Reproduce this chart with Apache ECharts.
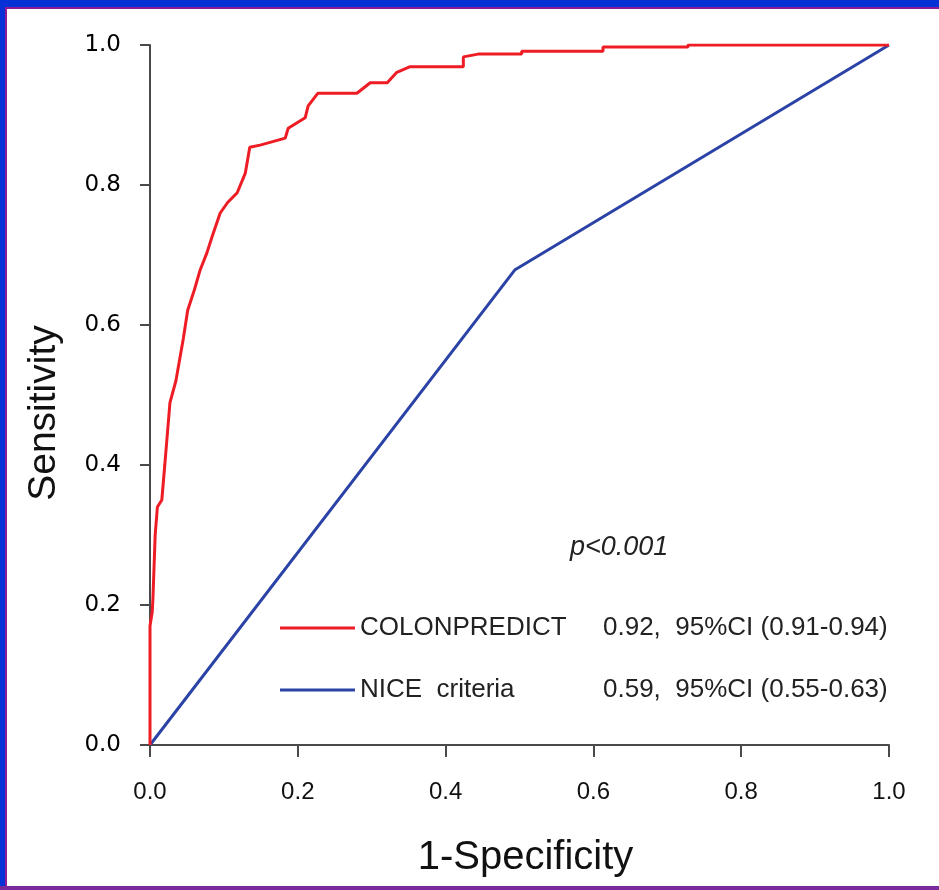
<!DOCTYPE html>
<html>
<head>
<meta charset="utf-8">
<script src="https://cdn.jsdelivr.net/npm/echarts@6/dist/echarts.min.js"></script>
<style>
html,body{margin:0;padding:0;background:#fff;}
#chart{width:939px;height:890px;}
</style>
</head>
<body>
<div id="chart"></div>
<script>
// ROC curve: COLONPREDICT (1-Specificity, Sensitivity)
const colonX = [0, 0, 0.003, 0.004, 0.007, 0.010, 0.016, 0.020, 0.027, 0.035, 0.045, 0.051, 0.060, 0.068, 0.077, 0.084, 0.095, 0.105, 0.118, 0.129, 0.135, 0.149, 0.183, 0.187, 0.210, 0.214, 0.227, 0.280, 0.298, 0.321, 0.334, 0.352, 0.424, 0.424, 0.444, 0.503, 0.503, 0.613, 0.613, 0.728, 0.728, 1.0];
const colonY = [0, 0.17, 0.19, 0.21, 0.30, 0.34, 0.35, 0.40, 0.489, 0.52, 0.58, 0.621, 0.65, 0.679, 0.703, 0.726, 0.760, 0.775, 0.789, 0.817, 0.854, 0.857, 0.867, 0.881, 0.896, 0.913, 0.931, 0.931, 0.946, 0.946, 0.961, 0.969, 0.969, 0.983, 0.987, 0.987, 0.991, 0.991, 0.997, 0.997, 1.0, 1.0];
// NICE criteria
const niceX = [0, 0.494, 1.0];
const niceY = [0, 0.679, 1.0];

const seriesNames = ['COLONPREDICT', 'NICE  criteria'];
const aucTexts = ['0.92,  95%CI (0.91-0.94)', '0.59,  95%CI (0.55-0.63)'];
const pText = 'p<0.001';
const xAxisName = '1-Specificity';
const yAxisName = 'Sensitivity';

const pairs = (xs, ys) => xs.map((x, i) => [x, ys[i]]);

const chart = echarts.init(document.getElementById('chart'), null, {renderer: 'canvas'});
const axisLineStyle = {color: '#4a4a4a', width: 2};
chart.setOption({
  backgroundColor: '#ffffff',
  animation: false,
  grid: {left: 150, right: 50, top: 45, bottom: 145, containLabel: false, outerBoundsMode: 'none'},
  xAxis: {
    type: 'value', min: 0, max: 1, interval: 0.2,
    name: xAxisName, nameLocation: 'middle', nameGap: 93,
    nameTextStyle: {fontFamily: 'Liberation Sans', fontSize: 40, color: '#111', padding: [0, 0, 0, 12]},
    axisLine: {show: true, lineStyle: axisLineStyle},
    axisTick: {show: true, length: 12, lineStyle: axisLineStyle},
    axisLabel: {margin: 35, fontFamily: 'Liberation Sans', fontSize: 24, color: '#111', formatter: v => v.toFixed(1)},
    splitLine: {show: false}
  },
  yAxis: {
    type: 'value', min: 0, max: 1, interval: 0.2,
    name: yAxisName, nameLocation: 'middle', nameGap: 86,
    nameTextStyle: {fontFamily: 'Liberation Sans', fontSize: 39, color: '#111', padding: [0, 36, 0, 0]},
    axisLine: {show: true, lineStyle: axisLineStyle},
    axisTick: {show: true, length: 10, lineStyle: axisLineStyle},
    axisLabel: {margin: 29, fontFamily: 'DejaVu Sans', fontSize: 23, color: '#000', formatter: v => v.toFixed(1)},
    splitLine: {show: false}
  },
  legend: {
    orient: 'vertical', left: 275, top: 608,
    icon: 'rect', itemWidth: 75, itemHeight: 3, itemGap: 32,
    selectedMode: false,
    data: seriesNames,
    formatter: name => '{a|' + name + '}{b|' + aucTexts[seriesNames.indexOf(name)] + '}',
    textStyle: {
      fontFamily: 'Liberation Sans', fontSize: 26, color: '#222', lineHeight: 30,
      rich: {
        a: {width: 243, fontFamily: 'Liberation Sans', fontSize: 26, color: '#222'},
        b: {fontFamily: 'Liberation Sans', fontSize: 26, color: '#222'}
      }
    }
  },
  graphic: [
    {type: 'rect', shape: {x: 0, y: 0, width: 939, height: 7}, style: {fill: '#0531d6'}, silent: true},
    {type: 'rect', shape: {x: 0, y: 7, width: 939, height: 2}, style: {fill: '#8e1b95'}, silent: true},
    {type: 'rect', shape: {x: 0, y: 0, width: 5, height: 890}, style: {fill: '#0531d6'}, silent: true},
    {type: 'rect', shape: {x: 5, y: 7, width: 2, height: 883}, style: {fill: '#8e1b95'}, silent: true},
    {type: 'rect', shape: {x: 0, y: 886, width: 939, height: 4}, style: {fill: '#7a2a9a'}, silent: true},
    {type: 'text', left: 570, top: 534, style: {text: pText, fontFamily: 'Liberation Sans', fontStyle: 'italic', fontSize: 27, fill: '#222'}, silent: true}
  ],
  series: [
    {name: seriesNames[0], type: 'line', data: pairs(colonX, colonY), showSymbol: false, symbol: 'none',
     lineStyle: {color: '#ee1c24', width: 3}, itemStyle: {color: '#ee1c24'}, z: 3},
    {name: seriesNames[1], type: 'line', data: pairs(niceX, niceY), showSymbol: false, symbol: 'none',
     lineStyle: {color: '#2b43a6', width: 3}, itemStyle: {color: '#2b43a6'}, z: 2}
  ]
});
</script>
</body>
</html>
